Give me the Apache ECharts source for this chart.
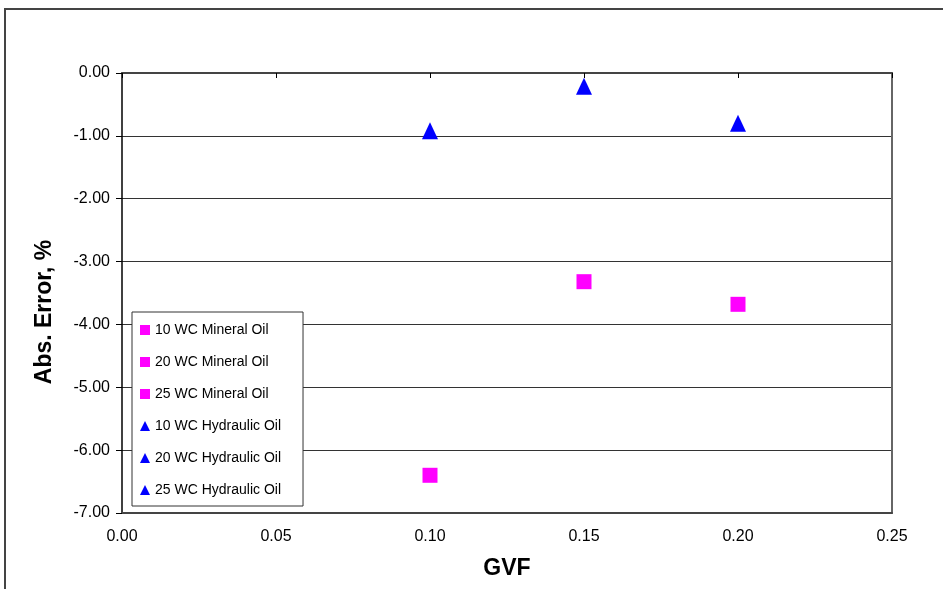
<!DOCTYPE html>
<html><head><meta charset="utf-8">
<script src="https://cdn.jsdelivr.net/npm/echarts@6/dist/echarts.min.js"></script>
<style>html,body{margin:0;padding:0;background:#fff}#c{width:943px;height:589px}</style>
</head><body><div id="c"></div>
<script>
const seriesNames = ['10 WC Mineral Oil','20 WC Mineral Oil','25 WC Mineral Oil','10 WC Hydraulic Oil','20 WC Hydraulic Oil','25 WC Hydraulic Oil'];
const mineral10 = [[0.10, -6.40]];
const mineral20 = [[0.15, -3.32]];
const mineral25 = [[0.20, -3.68]];
const hydraulic10 = [[0.10, -0.92]];
const hydraulic20 = [[0.15, -0.21]];
const hydraulic25 = [[0.20, -0.80]];
const seriesData = [mineral10, mineral20, mineral25, hydraulic10, hydraulic20, hydraulic25];
const xTicks = [0, 0.05, 0.10, 0.15, 0.20, 0.25];
const yTicks = [0, -1, -2, -3, -4, -5, -6, -7];

const font = '"Liberation Sans", Arial, sans-serif';
const chart = echarts.init(document.getElementById('c'), null, {renderer:'canvas'});
const series = seriesNames.map((n,i)=>{
  const isMin = i < 3;
  return {
    name:n, type:'scatter', data:seriesData[i],
    symbol: isMin ? 'rect' : 'triangle',
    symbolSize: isMin ? 15 : [16,17],
    itemStyle:{color: isMin ? '#FF00FF' : '#0000FF', opacity:1},
    z: 5
  };
});
chart.setOption({
  animation:false,
  graphic:[
    {type:'rect', shape:{x:5,y:9,width:1000,height:700}, style:{fill:'none', stroke:'#444', lineWidth:2}, silent:true},
    {type:'text', x:45, y:312, rotation:Math.PI/2, style:{text:'Abs. Error, %', font:'bold 23px "Liberation Sans", Arial, sans-serif', fill:'#000', align:'center', verticalAlign:'middle'}, silent:true}
  ],
  grid:{left:122, top:73, right:51, bottom:76},
  xAxis:[{
    type:'value', min:xTicks[0], max:xTicks[xTicks.length-1], interval:0.05, position:'bottom',
    name:'GVF', nameLocation:'middle', nameGap:44,
    nameTextStyle:{fontFamily:font, fontSize:23, fontWeight:'bold', color:'#000'},
    axisLine:{show:true, onZero:false, lineStyle:{color:'#444', width:2}},
    axisTick:{show:false},
    splitLine:{show:false},
    axisLabel:{fontFamily:font, fontSize:16, color:'#000', margin:16, formatter:v=>v.toFixed(2)}
  },{
    type:'value', min:xTicks[0], max:xTicks[xTicks.length-1], interval:0.05, position:'top',
    axisLine:{show:true, onZero:false, lineStyle:{color:'#444', width:2}},
    axisTick:{show:true, inside:true, length:5, lineStyle:{color:'#000', width:1}},
    axisLabel:{show:false}, splitLine:{show:false}
  }],
  yAxis:[{
    type:'value', min:yTicks[yTicks.length-1], max:yTicks[0], interval:1,
    axisLine:{show:true, onZero:false, lineStyle:{color:'#000', width:1.5}},
    axisTick:{show:true, length:6, lineStyle:{color:'#000'}},
    splitLine:{show:true, lineStyle:{color:'#333', width:1}},
    axisLabel:{fontFamily:font, fontSize:16, color:'#000', margin:12, formatter:v=>v.toFixed(2)}
  },{
    type:'value', min:yTicks[yTicks.length-1], max:yTicks[0], interval:1, position:'right',
    axisLine:{show:true, onZero:false, lineStyle:{color:'#666', width:2}},
    axisTick:{show:false}, axisLabel:{show:false}, splitLine:{show:false}
  }],
  legend:{
    orient:'vertical', left:132, top:312,
    padding:[11,22,9,8], itemGap:18, itemWidth:10, itemHeight:10,
    borderColor:'#333', borderWidth:1, backgroundColor:'#fff',
    textStyle:{fontFamily:font, fontSize:14, color:'#000', lineHeight:14},
    data: seriesNames.map((n,i)=>({name:n, icon: i<3 ? 'rect' : 'triangle'}))
  },
  series
});
</script></body></html>
